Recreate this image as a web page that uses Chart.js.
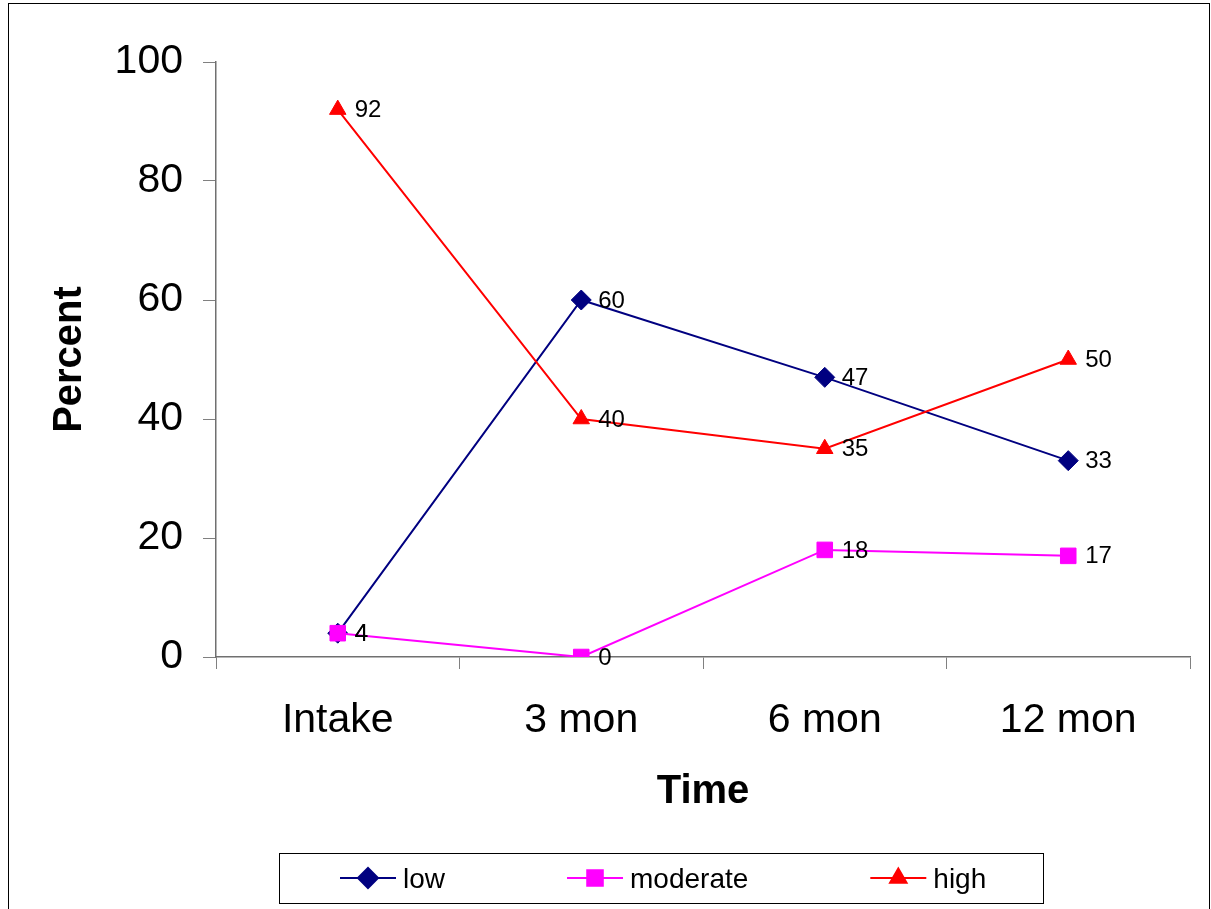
<!DOCTYPE html>
<html>
<head>
<meta charset="utf-8">
<script src="https://cdn.jsdelivr.net/npm/chart.js@4.4.0/dist/chart.umd.min.js"></script>
<style>
  html, body { margin: 0; padding: 0; background: #fff; }
  #wrap { width: 1211px; height: 909px; position: relative; }
</style>
</head>
<body>
<div id="wrap"><canvas id="lineChart" width="1211" height="909"></canvas></div>
<script>
// data
var categories = ['Intake', '3 mon', '6 mon', '12 mon'];
var lowValues = [4, 60, 47, 33];
var moderateValues = [4, 0, 18, 17];
var highValues = [92, 40, 35, 50];
var yTicks = [0, 20, 40, 60, 80, 100];

var FONT = '"Liberation Sans", Arial, sans-serif';

// value labels to the right of every point
var valueLabels = {
    id: 'valueLabels',
    afterDatasetsDraw: function(chart){
        var ctx = chart.ctx;
        ctx.save();
        ctx.font = '24px ' + FONT;
        ctx.fillStyle = '#000';
        ctx.textAlign = 'left';
        ctx.textBaseline = 'middle';
        chart.data.datasets.forEach(function(ds, i){
            var meta = chart.getDatasetMeta(i);
            meta.data.forEach(function(pt, j){
                ctx.fillText(String(ds.data[j]), pt.x + 17, pt.y + 1);
            });
        });
        ctx.restore();
    }
};

// outer frame + boxed legend like the office chart
var frameAndLegend = {
    id: 'frameAndLegend',
    afterDraw: function(chart){
        var ctx = chart.ctx;
        ctx.save();
        ctx.strokeStyle = '#000';
        ctx.lineWidth = 1;
        ctx.strokeRect(8.5, 3.5, 1201, 915);

        // legend box
        var boxX = 279, boxY = 853, boxW = 764, boxH = 50;
        ctx.strokeRect(boxX + 0.5, boxY + 0.5, boxW, boxH);

        ctx.font = '28px ' + FONT;
        ctx.textBaseline = 'middle';
        ctx.textAlign = 'left';
        var cy = boxY + boxH / 2;
        var x = boxX + 61;
        chart.data.datasets.forEach(function(ds){
            ctx.strokeStyle = ds.borderColor;
            ctx.lineWidth = 2;
            ctx.beginPath();
            ctx.moveTo(x, cy);
            ctx.lineTo(x + 56, cy);
            ctx.stroke();
            ctx.fillStyle = ds.pointBackgroundColor;
            ctx.strokeStyle = ds.borderColor;
            Chart.helpers.drawPoint(ctx, {
                pointStyle: ds.pointStyle,
                radius: ds.pointRadius,
                borderWidth: 1,
                rotation: 0
            }, x + 28, cy);
            ctx.fillStyle = '#000';
            ctx.fillText(ds.label, x + 63, cy + 2);
            x += 63 + ctx.measureText(ds.label).width + 122;
        });
        ctx.restore();
    }
};

function series(label, values, color, style, radius, order){
    return {
        label: label,
        data: values,
        order: order,
        borderColor: color,
        backgroundColor: color,
        pointBackgroundColor: color,
        pointBorderColor: color,
        pointStyle: style,
        pointRadius: radius,
        pointHoverRadius: radius,
        pointBorderWidth: 1,
        borderWidth: 2,
        tension: 0,
        fill: false
    };
}

var ctx = document.getElementById('lineChart');
var lineChart = new Chart(ctx, {
    type: 'line',
    data: {
        labels: categories,
        datasets: [
            series('low', lowValues, '#000080', 'rectRot', 10, 3),
            series('moderate', moderateValues, '#FF00FF', 'rect', 11, 2),
            series('high', highValues, '#FF0000', 'triangle', 9.5, 1)
        ]
    },
    options: {
        responsive: false,
        animation: false,
        layout: { padding: { left: 9, top: 62, right: 21, bottom: 89 } },
        plugins: {
            legend: { display: false },
            tooltip: { enabled: false }
        },
        scales: {
            x: {
                offset: true,
                afterFit: function(scale){ scale.height = 163; },
                grid: { display: true, drawOnChartArea: false, drawTicks: true, tickLength: 12, offset: true, color: '#808080', lineWidth: 1 },
                border: { display: true, color: '#707070', width: 1.5 },
                ticks: { color: '#000', font: { family: FONT, size: 41 }, padding: 27, maxRotation: 0 },
                title: { display: true, text: 'Time', color: '#000', font: { family: FONT, size: 40, weight: 'bold' }, padding: { top: 0, bottom: 4 } }
            },
            y: {
                min: 0,
                max: 100,
                afterFit: function(scale){ scale.width = 207; },
                afterBuildTicks: function(scale){
                    scale.ticks = yTicks.map(function(v){ return { value: v }; });
                },
                grid: { display: true, drawOnChartArea: false, drawTicks: true, tickLength: 13, color: '#808080', lineWidth: 1 },
                border: { display: true, color: '#707070', width: 1.5 },
                ticks: { color: '#000', font: { family: FONT, size: 41 }, padding: 20 },
                title: { display: true, text: 'Percent', color: '#000', font: { family: FONT, size: 40, weight: 'bold' }, padding: { top: 37, bottom: 0 } }
            }
        }
    },
    plugins: [valueLabels, frameAndLegend]
});
</script>
</body>
</html>
